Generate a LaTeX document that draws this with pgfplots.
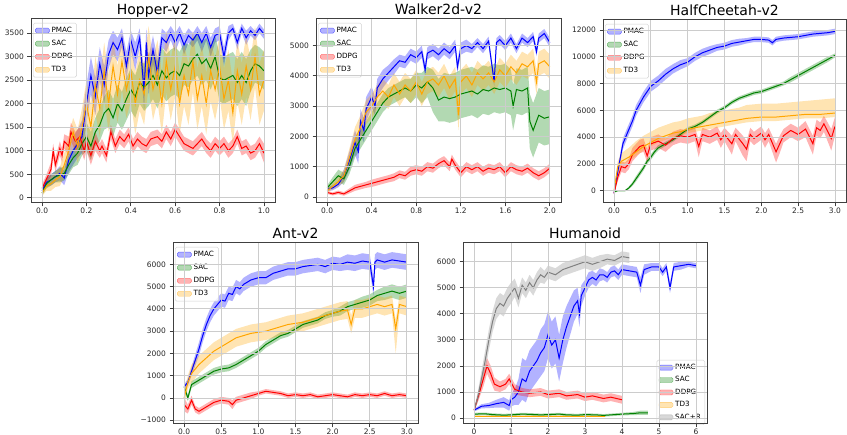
\documentclass[border=0pt]{standalone}
\usepackage{fontspec}
\setmainfont{DejaVu Sans}
\usepackage{pgfplots}
\usepackage{pgfplotstable}
\pgfplotsset{compat=1.18}
\usepgfplotslibrary{fillbetween}

\definecolor{mblue}{RGB}{0,0,255}
\definecolor{mgreen}{RGB}{0,128,0}
\definecolor{mred}{RGB}{255,0,0}
\definecolor{morange}{RGB}{255,165,0}
\definecolor{mgray}{RGB}{128,128,128}

% columns: x, mean y, band below (a), band above (b)
\pgfplotstableread{
x y a b
0.00 150 60 60
0.02 330 100 100
0.04 380 120 120
0.06 450 120 120
0.08 520 150 150
0.10 420 150 150
0.12 800 250 250
0.14 1000 300 300
0.16 1150 300 300
0.18 1300 350 350
0.20 2000 400 400
0.22 2600 400 400
0.24 2150 400 400
0.26 2850 350 350
0.28 2400 400 400
0.30 3050 300 300
0.32 3300 250 250
0.34 3150 250 250
0.36 3400 200 200
0.38 2800 300 300
0.40 3350 200 200
0.42 3000 300 300
0.44 3400 200 200
0.46 2250 400 400
0.47 3300 300 300
0.48 2600 400 400
0.50 3150 300 300
0.52 2650 300 300
0.54 3400 200 200
0.56 3300 200 200
0.58 3500 150 150
0.60 3300 200 200
0.62 3500 150 150
0.64 3250 200 200
0.66 3450 150 150
0.68 3350 150 150
0.70 3500 150 150
0.72 3300 200 200
0.74 3500 150 150
0.76 3200 200 200
0.78 3450 150 150
0.80 3500 150 150
0.82 3000 200 200
0.84 3500 150 150
0.86 3600 100 100
0.88 3300 150 150
0.90 3600 100 100
0.92 3400 150 150
0.94 3550 100 100
0.96 3450 100 100
0.98 3600 100 100
1.00 3480 100 100
}\hopPMAC
\pgfplotstableread{
x y a b
0.00 100 50 50
0.02 300 100 100
0.04 380 120 120
0.06 450 120 120
0.08 480 150 150
0.10 520 150 150
0.12 700 200 200
0.14 850 200 200
0.16 950 250 250
0.18 1150 250 250
0.20 1300 300 300
0.22 1100 300 300
0.24 1400 300 300
0.26 1550 350 350
0.28 1800 350 350
0.30 1900 400 400
0.32 1700 400 400
0.34 2000 400 400
0.36 1850 400 400
0.38 2100 450 450
0.40 2300 450 450
0.42 2150 450 450
0.44 2450 450 450
0.46 2350 500 500
0.48 2450 500 500
0.50 2600 500 500
0.52 2400 500 500
0.54 2700 500 500
0.56 2550 500 500
0.58 2650 500 500
0.60 2700 500 500
0.62 2600 500 500
0.64 2850 450 450
0.66 2800 450 450
0.68 2950 450 450
0.70 3050 450 450
0.72 2850 450 450
0.74 2950 450 450
0.76 2750 450 450
0.78 3000 450 450
0.80 2550 500 500
0.82 2500 500 500
0.84 2550 500 500
0.86 2600 500 500
0.88 2450 500 500
0.90 2600 500 500
0.92 2450 500 500
0.94 2700 450 450
0.96 2850 400 400
0.98 2800 400 400
1.00 2700 400 400
}\hopSAC
\pgfplotstableread{
x y a b
0.00 200 80 80
0.02 400 100 100
0.04 600 150 150
0.05 1000 150 150
0.06 700 150 150
0.08 1050 150 150
0.09 900 150 150
0.10 1200 150 150
0.12 1100 200 200
0.13 1400 200 200
0.15 1200 200 200
0.17 1300 200 200
0.19 1000 200 200
0.20 1200 200 200
0.22 900 200 200
0.24 1200 200 200
0.26 1000 150 150
0.27 1100 150 150
0.29 900 150 150
0.31 1400 150 150
0.33 1100 150 150
0.35 1300 150 150
0.37 1200 150 150
0.39 1350 150 150
0.41 1100 150 150
0.43 1250 150 150
0.45 1150 150 150
0.47 1100 150 150
0.49 1250 150 150
0.52 1300 150 150
0.54 1200 150 150
0.56 1400 150 150
0.58 1250 150 150
0.60 1450 150 150
0.62 1300 150 150
0.64 1150 150 150
0.66 1100 150 150
0.68 1050 150 150
0.70 1150 150 150
0.72 1250 150 150
0.74 1100 150 150
0.76 1000 150 150
0.78 1150 150 150
0.80 1050 150 150
0.82 1150 150 150
0.84 1000 150 150
0.86 1100 150 150
0.88 1300 150 150
0.90 1050 150 150
0.92 1100 150 150
0.94 950 150 150
0.96 1000 150 150
0.98 1150 150 150
1.00 950 200 200
}\hopDDPG
\pgfplotstableread{
x y a b
0.00 100 60 60
0.02 250 100 100
0.04 300 150 150
0.06 380 150 150
0.08 450 200 200
0.10 700 250 250
0.12 1000 300 300
0.14 1400 300 300
0.16 1100 350 350
0.18 1500 400 400
0.20 2000 500 500
0.22 1500 500 500
0.24 2400 600 600
0.26 1900 600 600
0.28 2700 600 600
0.30 2000 600 600
0.32 2800 600 600
0.34 2200 600 600
0.36 2900 600 600
0.38 2300 600 600
0.40 2700 650 650
0.42 2000 650 650
0.44 2500 650 650
0.46 2200 650 650
0.48 3000 650 650
0.50 2300 650 650
0.52 2700 650 650
0.54 2000 650 650
0.56 2900 650 650
0.58 2300 650 650
0.60 2800 650 650
0.62 2000 650 650
0.64 2600 650 650
0.66 2200 650 650
0.68 2900 650 650
0.70 2100 650 650
0.72 2600 650 650
0.74 2000 650 650
0.76 2700 650 650
0.78 2300 650 650
0.80 2800 650 650
0.82 2100 650 650
0.84 2500 650 650
0.86 1800 650 650
0.88 2700 650 650
0.90 2200 650 650
0.92 2800 650 650
0.94 2300 650 650
0.96 3000 650 650
0.98 2200 650 650
1.00 2500 650 650
}\hopTD

\pgfplotstableread{
x y a b
0.00 250 60 60
0.05 300 80 80
0.10 420 100 100
0.15 700 200 200
0.20 1200 300 300
0.25 1800 400 400
0.28 1500 400 400
0.30 2500 400 400
0.33 2200 400 400
0.35 2900 400 400
0.40 3300 350 350
0.43 3000 300 300
0.45 3600 300 300
0.50 3900 300 300
0.55 4100 250 250
0.60 4300 250 250
0.65 4500 200 200
0.70 4450 200 200
0.75 4700 200 200
0.80 4600 200 200
0.85 4800 200 200
0.88 4200 200 200
0.90 4750 200 200
0.95 4850 200 200
1.00 4700 200 200
1.05 4900 200 200
1.10 4750 200 200
1.15 5000 200 200
1.17 4300 200 200
1.20 4900 200 200
1.25 5000 200 200
1.30 4900 150 150
1.35 5100 150 150
1.40 4900 150 150
1.45 5150 150 150
1.50 3800 150 150
1.52 5100 150 150
1.55 5200 150 150
1.60 5000 150 150
1.65 5250 150 150
1.70 4900 150 150
1.75 5250 150 150
1.80 5100 150 150
1.85 5300 150 150
1.88 4800 150 150
1.90 5250 150 150
1.95 5400 150 150
2.00 5100 150 150
}\walPMAC
\pgfplotstableread{
x y a b
0.00 300 80 80
0.05 500 150 150
0.10 700 200 200
0.15 600 200 200
0.20 1000 250 250
0.25 1600 300 300
0.30 1900 300 300
0.35 2200 300 300
0.40 2500 300 300
0.45 2800 300 300
0.50 3100 300 300
0.55 3300 300 300
0.60 3400 300 300
0.65 3500 300 300
0.70 3600 300 300
0.75 3500 400 400
0.80 3700 400 400
0.85 3600 500 500
0.90 3800 500 500
0.95 3600 800 600
1.00 3200 700 700
1.05 3300 800 800
1.10 3250 800 800
1.15 3300 800 800
1.20 3400 800 800
1.25 3450 800 800
1.30 3500 800 800
1.35 3400 800 800
1.40 3550 800 800
1.45 3500 800 800
1.50 3600 800 800
1.55 3550 800 800
1.60 3600 800 800
1.65 3500 800 700
1.67 3000 800 700
1.70 3550 800 700
1.75 3500 800 700
1.80 3600 800 700
1.82 2500 900 900
1.85 2200 900 900
1.90 2700 900 900
1.95 2600 900 900
2.00 2650 900 900
}\walSAC
\pgfplotstableread{
x y a b
0.00 150 50 50
0.05 100 50 50
0.10 150 60 60
0.15 100 60 60
0.20 200 80 80
0.25 300 100 100
0.30 350 100 100
0.35 400 100 100
0.40 450 120 120
0.45 500 120 120
0.50 550 120 120
0.55 600 120 120
0.60 650 130 130
0.65 750 130 130
0.70 700 130 130
0.75 850 150 150
0.80 900 150 150
0.85 850 150 150
0.90 1000 150 150
0.95 950 150 150
1.00 1100 150 150
1.05 1200 150 150
1.10 1000 150 150
1.12 1250 150 150
1.15 1050 150 150
1.20 800 150 150
1.25 1000 150 150
1.30 900 150 150
1.35 1000 150 150
1.40 850 150 150
1.45 950 150 150
1.50 900 150 150
1.55 1000 150 150
1.60 800 150 150
1.65 1000 150 150
1.70 900 150 150
1.75 850 150 150
1.80 950 150 150
1.85 800 150 150
1.90 700 150 150
1.95 800 150 150
2.00 950 150 150
}\walDDPG
\pgfplotstableread{
x y a b
0.00 200 60 60
0.05 350 100 100
0.10 500 150 150
0.15 700 200 200
0.20 1300 300 300
0.25 1900 400 400
0.30 2300 400 400
0.35 2800 400 400
0.40 3000 400 400
0.45 3300 400 400
0.50 3500 400 400
0.55 3300 400 400
0.60 3700 400 400
0.65 3400 400 400
0.70 3700 400 400
0.75 3500 400 400
0.80 3800 400 400
0.85 3400 400 400
0.90 3800 400 400
0.95 3900 400 400
1.00 3700 400 400
1.05 4000 400 400
1.10 3600 400 400
1.15 3900 400 400
1.18 2700 500 500
1.20 3800 400 400
1.25 4000 400 400
1.30 3700 400 400
1.35 4100 400 400
1.40 3900 400 400
1.45 4100 400 400
1.50 3800 400 400
1.55 4200 400 400
1.60 4000 400 400
1.65 4300 400 400
1.70 4100 400 400
1.75 4400 400 400
1.80 4300 400 400
1.85 4500 400 400
1.88 3800 400 400
1.90 4400 400 400
1.95 4500 400 400
2.00 4300 400 400
}\walTD

\pgfplotstableread{
x y a b
0.00 -200 50 50
0.03 800 200 200
0.07 2000 300 300
0.12 3500 400 400
0.18 4300 400 400
0.25 5200 400 400
0.30 6000 400 400
0.40 7000 400 400
0.50 7800 400 400
0.60 8200 400 400
0.70 8700 400 400
0.80 9100 350 350
0.90 9400 350 350
1.00 9600 300 300
1.10 10000 300 300
1.20 10300 300 300
1.30 10500 300 300
1.40 10700 250 250
1.50 10800 250 250
1.60 11000 250 250
1.70 11100 250 250
1.80 11200 200 200
1.90 11300 200 200
2.00 11300 200 200
2.10 11250 200 200
2.15 11050 200 200
2.20 11300 200 200
2.30 11400 200 200
2.40 11450 200 200
2.50 11500 200 200
2.60 11600 200 200
2.70 11700 200 200
2.80 11750 200 200
2.90 11800 200 200
3.00 11900 200 200
}\hcPMAC
\pgfplotstableread{
x y a b
0.00 -100 50 50
0.05 0 50 50
0.15 0 50 50
0.20 200 100 100
0.25 500 150 150
0.30 900 200 200
0.35 1300 200 200
0.40 1700 200 200
0.45 2200 200 200
0.50 2500 200 200
0.55 2900 200 200
0.60 3200 200 200
0.70 3500 150 150
0.80 3800 150 150
0.90 4200 150 150
1.00 4600 150 150
1.10 4800 150 150
1.20 5100 150 150
1.30 5500 150 150
1.40 5900 150 150
1.50 6200 150 150
1.60 6600 150 150
1.70 6900 150 150
1.80 7100 150 150
1.90 7300 150 150
2.00 7400 150 150
2.10 7600 150 150
2.20 7800 150 150
2.30 8000 150 150
2.40 8300 200 200
2.50 8600 200 200
2.60 8900 200 200
2.70 9200 200 200
2.80 9500 200 200
2.90 9800 200 200
3.00 10100 150 150
}\hcSAC
\pgfplotstableread{
x y a b
0.00 -200 50 50
0.05 1000 300 300
0.10 1800 400 400
0.15 1700 400 400
0.20 2000 400 400
0.25 2700 500 500
0.30 3000 500 500
0.35 3300 500 500
0.40 3400 500 500
0.45 2600 500 500
0.50 3500 500 500
0.60 3700 500 500
0.70 3400 500 500
0.80 3900 500 500
0.90 4100 500 500
1.00 4000 500 500
1.10 4200 500 500
1.15 3300 800 500
1.20 4200 500 500
1.30 4000 500 500
1.40 4300 500 500
1.45 3800 600 500
1.50 4200 500 500
1.60 3500 800 600
1.65 4200 500 500
1.75 3500 900 600
1.80 3100 900 600
1.85 4200 500 500
1.90 3900 500 500
2.00 4300 500 500
2.05 3800 600 500
2.10 4200 500 500
2.20 2900 800 600
2.25 3500 700 600
2.30 4100 500 500
2.40 4500 500 500
2.50 4200 500 500
2.60 4600 600 600
2.70 3500 800 600
2.75 4700 600 600
2.80 4500 600 600
2.85 5000 600 600
2.95 3900 900 700
3.00 4800 700 700
}\hcDDPG
\pgfplotstableread{
x y a b
0.00 0 100 100
0.05 1800 400 400
0.10 2200 300 600
0.20 2500 300 700
0.30 2900 300 800
0.40 3300 300 800
0.50 3600 300 800
0.60 3900 300 800
0.70 4100 300 800
0.80 4300 300 800
0.90 4400 300 800
1.00 4600 300 800
1.10 4700 300 800
1.20 4800 300 800
1.30 4900 300 900
1.40 5000 300 900
1.50 5100 300 900
1.60 5200 300 900
1.70 5300 300 900
1.80 5400 300 1000
1.90 5450 300 1000
2.00 5500 300 1000
2.20 5500 300 1000
2.40 5600 300 1000
2.60 5700 300 1000
2.80 5700 300 1100
3.00 5800 300 1100
}\hcTD

\pgfplotstableread{
x y a b
0.00 500 100 100
0.05 700 150 150
0.10 1200 200 200
0.15 1700 250 250
0.20 2200 300 300
0.25 2800 300 300
0.30 3300 300 300
0.35 3700 300 300
0.40 4000 300 300
0.45 4200 300 300
0.50 4400 300 300
0.55 4350 300 300
0.60 4700 300 300
0.65 4650 300 300
0.70 5000 300 300
0.75 4900 300 300
0.80 5100 300 300
0.90 5300 300 300
1.00 5400 300 300
1.10 5400 300 300
1.20 5600 300 300
1.30 5700 300 300
1.40 5800 300 300
1.50 5800 300 300
1.60 5900 300 300
1.70 5950 300 300
1.80 6000 300 300
1.90 5900 300 300
2.00 6050 300 300
2.10 6000 300 300
2.20 6100 350 350
2.30 6050 350 350
2.40 6150 350 350
2.50 6100 350 350
2.55 5000 400 400
2.57 6100 350 350
2.60 6200 350 350
2.70 6100 350 350
2.80 6200 350 350
2.90 6150 350 350
3.00 6100 350 350
}\antPMAC
\pgfplotstableread{
x y a b
0.00 500 100 100
0.05 0 150 150
0.10 600 150 150
0.20 800 150 150
0.30 1000 150 150
0.40 1200 150 150
0.50 1300 150 150
0.60 1350 150 150
0.70 1500 150 150
0.80 1700 150 150
0.90 1900 150 150
1.00 2100 150 150
1.10 2400 150 150
1.20 2600 150 150
1.30 2800 150 150
1.40 2900 150 150
1.50 3100 150 150
1.60 3300 150 150
1.70 3400 150 150
1.80 3500 150 150
1.90 3700 150 150
2.00 3800 150 150
2.10 3900 200 200
2.20 4100 200 200
2.30 4200 200 200
2.40 4300 250 250
2.50 4400 250 250
2.60 4600 250 250
2.70 4700 300 300
2.80 4800 300 300
2.90 4700 300 300
3.00 4800 300 300
}\antSAC
\pgfplotstableread{
x y a b
0.00 -300 300 300
0.05 -500 200 200
0.10 -100 200 200
0.15 -500 150 150
0.20 -600 150 150
0.30 -400 150 150
0.40 -200 150 150
0.50 -100 150 150
0.60 -150 150 150
0.65 -300 200 200
0.70 -100 150 150
0.80 0 150 150
0.90 100 150 150
1.00 200 100 100
1.10 300 100 100
1.20 250 100 100
1.30 200 100 100
1.40 100 100 100
1.50 150 100 100
1.60 100 100 100
1.70 150 100 100
1.80 50 100 100
1.90 100 100 100
2.00 150 100 100
2.10 100 100 100
2.20 50 100 100
2.30 150 100 100
2.40 100 100 100
2.50 150 100 100
2.60 100 100 100
2.70 200 100 100
2.80 100 100 100
2.90 150 100 100
3.00 100 100 100
}\antDDPG
\pgfplotstableread{
x y a b
0.00 0 300 300
0.05 700 300 300
0.10 1100 400 400
0.20 1500 400 400
0.30 1800 400 400
0.40 2100 400 400
0.50 2300 400 400
0.60 2500 400 400
0.70 2700 400 400
0.80 2800 400 400
0.90 2900 400 400
1.00 2950 400 400
1.10 3000 400 400
1.20 3100 400 400
1.30 3200 400 400
1.40 3300 400 400
1.50 3350 400 400
1.60 3400 400 400
1.70 3500 400 400
1.80 3600 400 400
1.90 3700 400 400
2.00 3800 400 400
2.10 3900 400 400
2.20 3950 400 400
2.25 3300 400 400
2.30 4000 400 400
2.40 4000 400 400
2.50 4100 400 400
2.60 4200 400 400
2.70 4100 400 400
2.80 4200 400 400
2.85 3100 1100 400
2.90 4200 400 400
3.00 4100 400 400
}\antTD

\pgfplotstableread{
x y a b
0.00 300 50 50
0.20 450 80 80
0.40 480 100 100
0.60 550 150 150
0.80 600 200 200
0.95 480 200 200
1.00 700 250 250
1.10 800 300 300
1.20 1000 500 500
1.30 1500 800 800
1.40 1400 800 800
1.50 1800 800 800
1.60 2000 800 800
1.70 2200 800 800
1.80 2500 900 900
1.90 2700 900 900
2.00 3200 900 900
2.10 2800 900 900
2.20 3000 900 900
2.30 2300 900 900
2.40 3000 900 900
2.50 3500 800 800
2.60 3900 700 700
2.70 4300 600 600
2.80 4500 500 500
2.85 4000 500 500
2.90 4700 400 400
3.00 5000 300 300
3.10 5300 300 300
3.20 5400 250 250
3.30 5300 250 250
3.40 5500 250 250
3.50 5500 200 200
3.60 5400 200 200
3.70 5600 200 200
3.80 5650 200 200
3.90 5500 200 200
4.00 5700 200 200
4.20 5650 200 200
4.40 5600 200 200
4.50 5100 300 300
4.60 5700 200 200
4.80 5800 150 150
5.00 5800 150 150
5.10 5600 150 150
5.20 5800 150 150
5.30 5000 200 200
5.40 5800 150 150
5.60 5850 150 150
5.80 5900 100 100
6.00 5850 100 100
}\humPMAC
\pgfplotstableread{
x y a b
0.00 150 50 50
0.30 160 50 50
0.50 130 50 50
0.80 110 50 50
1.00 120 50 50
1.30 150 50 50
1.50 140 50 50
1.80 120 50 50
2.00 130 50 50
2.30 150 50 50
2.50 120 50 50
2.80 110 50 50
3.00 130 50 50
3.30 120 50 50
3.50 100 50 50
3.80 130 50 50
4.00 150 50 50
4.30 170 60 60
4.50 200 80 80
4.70 200 80 80
}\humSAC
\pgfplotstableread{
x y a b
0.00 300 50 50
0.15 1000 200 200
0.25 1500 300 300
0.35 2000 300 300
0.45 1700 300 300
0.55 1300 250 250
0.70 1200 200 200
0.85 1300 200 200
0.95 1500 200 200
1.10 1100 200 200
1.30 1000 150 150
1.50 950 150 150
1.80 1000 150 150
2.00 900 150 150
2.30 950 150 150
2.50 850 150 150
2.80 900 150 150
3.00 800 150 150
3.20 850 150 150
3.50 750 150 150
3.70 800 150 150
4.00 700 150 150
}\humDDPG
\pgfplotstableread{
x y a b
0.00 70 30 30
1.00 70 30 30
2.00 70 30 30
3.00 70 30 30
3.55 70 30 30
}\humTD
\pgfplotstableread{
x y a b
0.00 300 50 50
0.10 800 200 200
0.20 1500 300 300
0.30 2200 400 400
0.40 3000 400 400
0.50 3700 400 400
0.60 4200 400 400
0.70 4400 400 400
0.80 4300 400 400
0.90 4600 400 400
1.00 4800 400 400
1.10 5000 350 350
1.20 4600 350 350
1.30 5100 300 300
1.40 4900 300 300
1.50 5200 300 300
1.60 5000 300 300
1.70 5300 300 300
1.80 5500 300 300
1.90 5400 250 250
2.00 5600 250 250
2.20 5500 250 250
2.40 5700 250 250
2.60 5800 250 250
2.80 5900 250 250
3.00 6000 250 250
3.20 5900 250 250
3.40 6000 250 250
3.60 6100 200 200
3.80 6050 200 200
4.00 6200 200 200
4.20 6150 200 200
}\humSACR

% band + mean line of one algorithm
\newcommand{\band}[3]{%
  \addplot[draw=none, forget plot, name path=#3u] table[x=x, y expr=\thisrow{y}+\thisrow{b}] {#1};
  \addplot[draw=none, forget plot, name path=#3l] table[x=x, y expr=\thisrow{y}-\thisrow{a}] {#1};
  \addplot[fill=#2, fill opacity=0.3, draw=none, forget plot] fill between[of=#3u and #3l];
  \addplot[#2, line width=1pt, forget plot] table[x=x, y=y] {#1};
}
\newcommand{\legfour}{%
  \addlegendimage{draw=mblue!60, fill=mblue, fill opacity=0.3}\addlegendentry{PMAC}
  \addlegendimage{draw=mgreen!60, fill=mgreen, fill opacity=0.3}\addlegendentry{SAC}
  \addlegendimage{draw=mred!60, fill=mred, fill opacity=0.3}\addlegendentry{DDPG}
  \addlegendimage{draw=morange!60, fill=morange, fill opacity=0.3}\addlegendentry{TD3}
}

\pgfplotsset{
  rl/.style={
    scale only axis, anchor=south west,
    axis on top,
    scaled ticks=false,
    axis line style={black!75, line width=1pt},
    grid=major, grid style={gray!40, line width=0.8pt},
    tick align=outside, tick pos=left, major tick length=3.5pt,
    every tick/.style={black!75, line width=0.8pt},
    ticklabel style={font=\fontsize{7.5}{8}\selectfont, text=black!85},
    xticklabel style={yshift=2pt},
    title style={font=\fontsize{14}{16}\selectfont, at={(0.5,1)}, anchor=base, yshift=-1.5pt, inner sep=0pt},
    /pgf/number format/assume math mode=true,
    /pgf/number format/1000 sep={},
    legend style={at={(0,1)}, anchor=north west, xshift=2pt, yshift=-4pt,
      font=\fontsize{7.2}{8}\selectfont, draw=gray!35, rounded corners=1.5pt,
      fill=white, fill opacity=0.8, text opacity=1, inner sep=2pt, row sep=2.2pt},
    legend cell align=left,
    legend image code/.code={\path[##1] (0pt,-2.5pt) rectangle (14pt,2.5pt);},
  },
  dec/.style={xticklabel style={/pgf/number format/.cd, fixed, fixed zerofill, precision=1}},
}

\begin{document}
\begin{tikzpicture}

\begin{axis}[rl, dec, at={(31pt,232pt)}, width=244pt, height=184pt,
  title={Hopper-v2},
  xmin=-0.05, xmax=1.05, ymin=-110, ymax=3800,
  xtick={0,0.2,0.4,0.6,0.8,1.0}, ytick={0,500,1000,1500,2000,2500,3000,3500}]
\legfour
\band{\hopPMAC}{mblue}{p}
\band{\hopSAC}{mgreen}{s}
\band{\hopDDPG}{mred}{d}
\band{\hopTD}{morange}{t}
\end{axis}

\begin{axis}[rl, dec, at={(316pt,232pt)}, width=245pt, height=184pt,
  title={Walker2d-v2},
  xmin=-0.1, xmax=2.1, ymin=-200, ymax=5880,
  xtick={0,0.4,0.8,1.2,1.6,2.0}, ytick={0,1000,2000,3000,4000,5000}]
\legfour
\band{\walPMAC}{mblue}{p}
\band{\walSAC}{mgreen}{s}
\band{\walDDPG}{mred}{d}
\band{\walTD}{morange}{t}
\end{axis}

\begin{axis}[rl, dec, at={(603pt,232pt)}, width=243pt, height=183pt,
  title={HalfCheetah-v2},
  xmin=-0.15, xmax=3.15, ymin=-920, ymax=12750,
  xtick={0,0.5,1,1.5,2,2.5,3}, ytick={0,2000,4000,6000,8000,10000,12000}]
\legfour
\band{\hcPMAC}{mblue}{p}
\band{\hcSAC}{mgreen}{s}
\band{\hcDDPG}{mred}{d}
\band{\hcTD}{morange}{t}
\end{axis}

\begin{axis}[rl, dec, at={(173pt,11pt)}, width=245pt, height=181pt,
  title={Ant-v2},
  xmin=-0.15, xmax=3.15, ymin=-1170, ymax=6960,
  xtick={0,0.5,1,1.5,2,2.5,3}, ytick={-1000,0,1000,2000,3000,4000,5000,6000},
  yticklabels={−1000,0,1000,2000,3000,4000,5000,6000}]
\legfour
\band{\antPMAC}{mblue}{p}
\band{\antSAC}{mgreen}{s}
\band{\antDDPG}{mred}{d}
\band{\antTD}{morange}{t}
\end{axis}

\begin{axis}[rl, at={(463pt,11pt)}, width=244pt, height=181pt,
  title={Humanoid},
  xmin=-0.3, xmax=6.3, ymin=-230, ymax=6720,
  xtick={0,1,2,3,4,5,6}, ytick={0,1000,2000,3000,4000,5000,6000},
  legend style={at={(1,0)}, anchor=south east, xshift=-4pt, yshift=3pt, row sep=1.6pt}]
\legfour
\addlegendimage{draw=mgray!60, fill=mgray, fill opacity=0.3}\addlegendentry{SAC+R}
\band{\humPMAC}{mblue}{p}
\band{\humSAC}{mgreen}{s}
\band{\humDDPG}{mred}{d}
\band{\humTD}{morange}{t}
\band{\humSACR}{mgray}{g}
\end{axis}

\pgfresetboundingbox
\path (0pt,0pt) rectangle (847pt,435pt);
\end{tikzpicture}
\end{document}
